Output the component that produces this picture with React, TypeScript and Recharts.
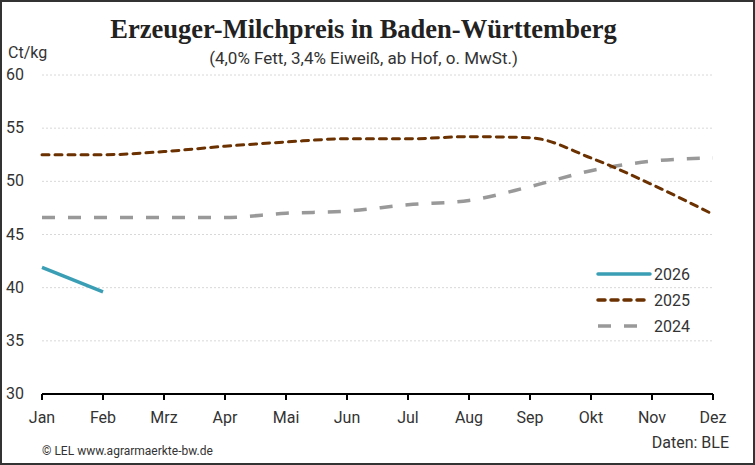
import { CartesianGrid, Line, LineChart, XAxis, YAxis } from "recharts";

const months = ["Jan", "Feb", "Mrz", "Apr", "Mai", "Jun", "Jul", "Aug", "Sep", "Okt", "Nov", "Dez"];
const price2026 = [41.9, 39.6];
const price2025 = [52.5, 52.5, 52.8, 53.3, 53.7, 54.0, 54.0, 54.2, 54.1, 52.2, 49.7, 46.9];
const price2024 = [46.6, 46.6, 46.6, 46.6, 47.0, 47.2, 47.8, 48.2, 49.5, 51.0, 51.9, 52.2];
const yTicks = [30, 35, 40, 45, 50, 55, 60];

const data = months.map((month, i) => ({
  month,
  y2026: price2026[i] ?? null,
  y2025: price2025[i],
  y2024: price2024[i],
}));

const legendItems = [
  { label: "2026", color: "#3a9fb5", dash: undefined, cap: "round" as const },
  { label: "2025", color: "#6b3100", dash: "7 6", cap: "round" as const },
  { label: "2024", color: "#999999", dash: "13 13", cap: "butt" as const },
];

const font = "Roboto, 'Noto Sans', sans-serif";

function YTick({ y, payload }: any) {
  return (
    <text x={4} y={y} dy={5} fill="#333" fontSize={16} fontFamily={font}>
      {payload.value}
    </text>
  );
}

function LegendBox() {
  return (
    <svg width={120} height={80}>
      {legendItems.map((item, i) => (
        <g key={item.label}>
          <line
            x1={4}
            x2={56}
            y1={12 + i * 26}
            y2={12 + i * 26}
            stroke={item.color}
            strokeWidth={3.5}
            strokeDasharray={item.dash}
            strokeLinecap={item.cap}
          />
          <text x={60} y={18 + i * 26} fontSize={16} fill="#333" fontFamily={font}>
            {item.label}
          </text>
        </g>
      ))}
    </svg>
  );
}

export default function App() {
  return (
    <div
      style={{
        position: "relative",
        width: 755,
        height: 465,
        border: "2px solid #333",
        boxSizing: "border-box",
        background: "#fff",
        fontFamily: font,
      }}
    >
      <style>{`body{margin:0}`}</style>
      <LineChart
        width={751}
        height={461}
        data={data}
        margin={{ top: 73, right: 40, left: 6, bottom: 39 }}
        style={{ position: "absolute", left: 0, top: 0 }}
      >
        <CartesianGrid stroke="#d8d8d8" strokeDasharray="2 2" vertical={false} />
        <XAxis
          dataKey="month"
          stroke="#000"
          strokeWidth={2}
          tickLine={{ stroke: "#000", strokeWidth: 2 }}
          tickSize={6}
          tick={{ fill: "#333", fontSize: 16, fontFamily: font, dy: 10 }}
          interval={0}
        />
        <YAxis
          domain={[30, 60]}
          ticks={yTicks}
          axisLine={false}
          tickLine={false}
          width={34}
          tick={<YTick />}
        />
        <Line
          dataKey="y2024"
          type="monotone"
          stroke="#999999"
          strokeWidth={3.5}
          strokeDasharray="13 13"
          dot={false}
          isAnimationActive={false}
        />
        <Line
          dataKey="y2025"
          type="monotone"
          stroke="#6b3100"
          strokeWidth={3}
          strokeDasharray="7 6"
          strokeLinecap="round"
          dot={false}
          isAnimationActive={false}
        />
        <Line
          dataKey="y2026"
          type="monotone"
          stroke="#3a9fb5"
          strokeWidth={3.5}
          dot={false}
          isAnimationActive={false}
        />
      </LineChart>
      <div style={{ position: "absolute", left: 592, top: 260 }}>
        <LegendBox />
      </div>
      <div
        style={{
          position: "absolute",
          top: 12,
          left: 0,
          width: 723,
          textAlign: "center",
          fontFamily: "'Liberation Serif', serif",
          fontWeight: "bold",
          fontSize: 26.5,
          color: "#222",
        }}
      >
        Erzeuger-Milchpreis in Baden-Württemberg
      </div>
      <div
        style={{
          position: "absolute",
          top: 46,
          left: 0,
          width: 723,
          textAlign: "center",
          fontSize: 17,
          color: "#333",
        }}
      >
        (4,0% Fett, 3,4% Eiweiß, ab Hof, o. MwSt.)
      </div>
      <div style={{ position: "absolute", top: 41, left: 6, fontSize: 16, color: "#333" }}>Ct/kg</div>
      <div style={{ position: "absolute", top: 431, right: 24, fontSize: 16, color: "#333" }}>
        Daten: BLE
      </div>
      <div style={{ position: "absolute", top: 442, left: 40, fontSize: 12, color: "#333" }}>
        © LEL www.agrarmaerkte-bw.de
      </div>
    </div>
  );
}
